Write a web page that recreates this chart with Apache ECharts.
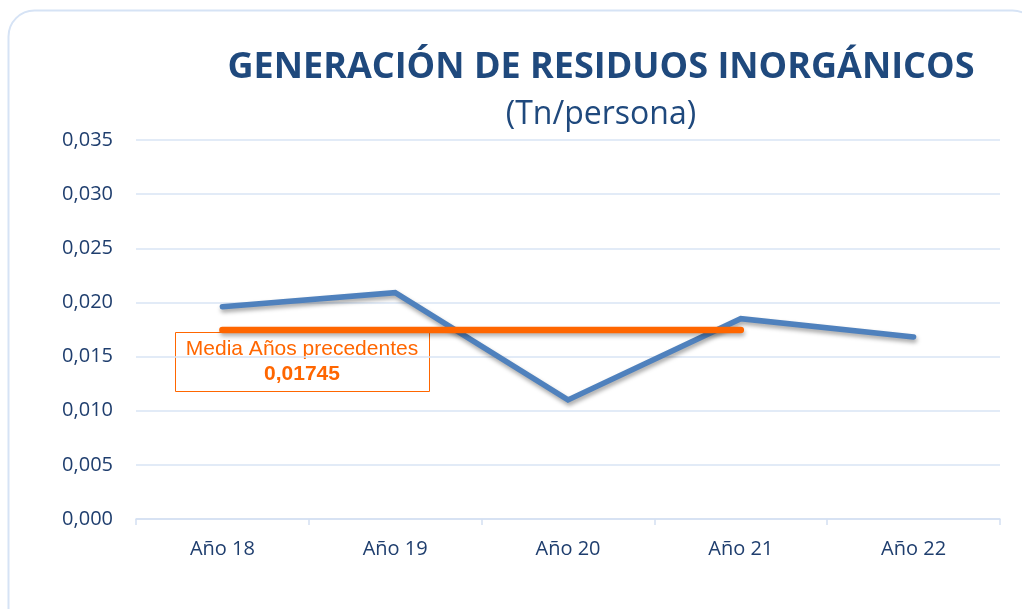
<!DOCTYPE html>
<html>
<head>
<meta charset="utf-8">
<script src="https://cdn.jsdelivr.net/npm/echarts@6/dist/echarts.min.js"></script>
<style>
  html, body { margin: 0; padding: 0; background: #fff; }
  #chart { width: 1022px; height: 609px; }
</style>
</head>
<body>
<div id="chart"></div>
<script>
  // datos
  const years = ['Año 18', 'Año 19', 'Año 20', 'Año 21', 'Año 22']
  const residuos = [0.0196, 0.0209, 0.0110, 0.0185, 0.0168]
  const mediaPrecedentes = 0.01745
  const mediaLine = [mediaPrecedentes, mediaPrecedentes, mediaPrecedentes, mediaPrecedentes, null]
  const yTicks = { min: 0, max: 0.035, interval: 0.005 }

  const fmtComa = (v, d) => v.toFixed(d).replace('.', ',')

  const myChart = echarts.init(document.getElementById('chart'))
  const option = {
    animation: false,
    backgroundColor: '#fff',
    title: [
      {
        text: 'GENERACIÓN DE RESIDUOS INORGÁNICOS',
        left: 596,
        top: 45,
        textAlign: 'center',
        textStyle: { color: '#1f497d', fontSize: 36, fontWeight: 'bold', fontFamily: 'Open Sans' }
      },
      {
        text: '(Tn/persona)',
        left: 596,
        top: 94,
        textAlign: 'center',
        textStyle: { color: '#1f497d', fontSize: 32, fontWeight: 'normal', fontFamily: 'Open Sans' }
      }
    ],
    grid: { left: 136, right: 22, top: 140, bottom: 90 },
    xAxis: {
      type: 'category',
      data: years,
      boundaryGap: true,
      axisLine: { lineStyle: { color: '#d3e0f2', width: 1.5 } },
      axisTick: { show: true, length: 6, lineStyle: { color: '#d3e0f2', width: 1.5 } },
      axisLabel: { color: '#1f3e6e', fontSize: 20, fontFamily: 'Open Sans', margin: 20 }
    },
    yAxis: {
      type: 'value',
      min: yTicks.min,
      max: yTicks.max,
      interval: yTicks.interval,
      axisLine: { show: false },
      axisTick: { show: false },
      splitLine: { lineStyle: { color: '#d9e4f4', width: 1.5 } },
      axisLabel: {
        color: '#1f3e6e',
        fontSize: 20,
        fontFamily: 'Open Sans',
        margin: 23,
        formatter: v => fmtComa(v, 3)
      }
    },
    series: [
      {
        name: 'Residuos',
        type: 'line',
        data: residuos,
        symbol: 'none',
        lineStyle: {
          color: '#4f81bd',
          width: 5.5,
          cap: 'round',
          join: 'miter',
          shadowColor: 'rgba(0,0,0,0.35)',
          shadowBlur: 4,
          shadowOffsetX: 1,
          shadowOffsetY: 3
        },
        z: 2
      },
      {
        name: 'Media',
        type: 'line',
        data: mediaLine,
        symbol: 'none',
        lineStyle: {
          color: '#ff6600',
          width: 6.5,
          cap: 'round',
          shadowColor: 'rgba(0,0,0,0.3)',
          shadowBlur: 4,
          shadowOffsetX: 1,
          shadowOffsetY: 3
        },
        z: 3
      }
    ],
    graphic: [
      {
        type: 'rect',
        shape: { x: 8.5, y: 10.5, width: 1030, height: 630, r: 26 },
        style: { fill: 'none', stroke: '#d6e3f5', lineWidth: 2 },
        silent: true,
        z: -1
      },
      {
        type: 'group',
        left: 175,
        top: 332,
        z: 10,
        children: [
          {
            type: 'rect',
            shape: { x: 0.5, y: 0.5, width: 254, height: 59 },
            style: { fill: '#fff', stroke: '#ff6600', lineWidth: 1 }
          },
          {
            type: 'text',
            x: 127,
            y: 7,
            style: {
              text: 'Media Años precedentes',
              fill: '#ff6600',
              font: '21px "Liberation Sans"',
              align: 'center'
            }
          },
          {
            type: 'text',
            x: 127,
            y: 32,
            style: {
              text: fmtComa(mediaPrecedentes, 5),
              fill: '#ff6600',
              font: 'bold 21px "Liberation Sans"',
              align: 'center'
            }
          }
        ]
      }
    ]
  }
  myChart.setOption(option)
</script>
</body>
</html>
